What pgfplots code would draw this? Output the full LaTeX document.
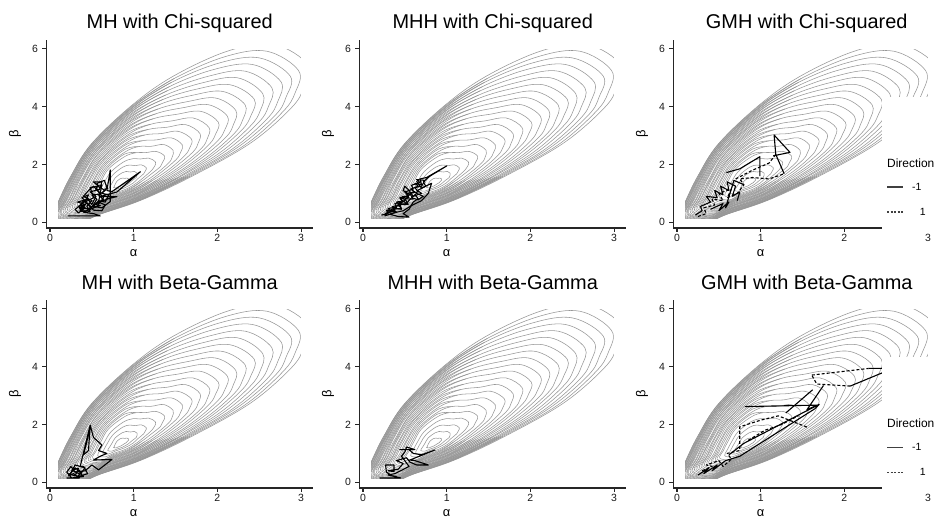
\documentclass[border=0pt]{standalone}
\usepackage{pgfplots}
\pgfplotsset{compat=1.18}
\usepackage{fontspec}
\setmainfont{Liberation Sans}
\definecolor{cgray}{RGB}{150,150,150}
\pgfplotsset{
  panel/.style={
    scale only axis, width=267bp, height=187.56bp,
    xmin=-0.045, xmax=3.145, ymin=-0.195, ymax=6.295,
    axis x line*=bottom, axis y line*=left,
    every outer x axis line/.append style={-},
    every outer y axis line/.append style={-},
    axis line style={-, line width=1.2bp, black!85},
    xtick={0,1,2,3}, ytick={0,2,4,6},
    tick align=outside, major tick length=4bp,
    tick style={line width=1.1bp, black!85},
    tick label style={font=\fontsize{10.5}{12}\selectfont, text=black!90},
    xticklabel style={inner sep=0pt, yshift=-2.2bp},
    yticklabel style={inner sep=4bp},
    /pgf/number format/assume math mode=true,
    axis on top,
    title style={font=\fontsize{20}{22}\selectfont, anchor=base, at={(axis description cs:0.5,1)}, inner sep=0pt},
    xlabel={α}, ylabel={β},
    xlabel style={at={(axis description cs:0.3276,0)}, anchor=base, yshift=-28.5bp, font=\fontsize{13}{15}\selectfont, inner sep=0pt},
    ylabel style={at={(axis description cs:-0.1169,0.5)}, anchor=center, font=\fontsize{13}{15}\selectfont, inner sep=0pt},
  },
  cline/.style={cgray, line width=0.55bp, smooth cycle, tension=0.6, forget plot},
  hline/.style={cgray, line width=0.55bp, smooth, tension=0.6, forget plot},
  mask/.style={fill=white, draw=none, forget plot},
  trace/.style={black, line width=1.1bp, line join=round, forget plot},
  dtrace/.style={black, line width=1.1bp, line join=round, dash pattern=on 3bp off 2bp, forget plot},
}
\newcommand{\contours}{%
\addplot[cline] coordinates {(0.94,1.50) (0.92,1.53) (0.89,1.52) (0.87,1.53) (0.84,1.51) (0.80,1.42) (0.78,1.33) (0.77,1.25) (0.76,1.20) (0.79,1.19) (0.81,1.22) (0.85,1.26) (0.88,1.32) (0.91,1.37) (0.93,1.43) (0.94,1.46)};
\addplot[cline] coordinates {(1.04,1.70) (1.01,1.76) (0.96,1.74) (0.91,1.76) (0.86,1.71) (0.78,1.54) (0.74,1.35) (0.71,1.21) (0.69,1.10) (0.74,1.08) (0.80,1.15) (0.87,1.22) (0.94,1.34) (0.98,1.44) (1.03,1.55) (1.04,1.62)};
\addplot[cline] coordinates {(1.15,1.89) (1.09,1.99) (1.02,1.96) (0.95,1.98) (0.87,1.91) (0.75,1.64) (0.69,1.37) (0.65,1.16) (0.63,1.01) (0.70,0.98) (0.78,1.08) (0.89,1.19) (0.99,1.35) (1.05,1.51) (1.12,1.68) (1.14,1.78)};
\addplot[cline] coordinates {(1.26,2.09) (1.18,2.22) (1.08,2.19) (0.99,2.20) (0.88,2.09) (0.73,1.75) (0.65,1.39) (0.60,1.12) (0.57,0.92) (0.66,0.88) (0.77,1.01) (0.91,1.15) (1.04,1.37) (1.13,1.58) (1.22,1.81) (1.25,1.94)};
\addplot[cline] coordinates {(1.37,2.29) (1.27,2.45) (1.14,2.41) (1.03,2.41) (0.89,2.27) (0.70,1.85) (0.61,1.42) (0.55,1.08) (0.51,0.84) (0.63,0.78) (0.75,0.95) (0.92,1.12) (1.08,1.39) (1.20,1.65) (1.32,1.93) (1.35,2.10)};
\addplot[cline] coordinates {(1.47,2.49) (1.36,2.69) (1.21,2.63) (1.06,2.62) (0.90,2.44) (0.68,1.94) (0.57,1.44) (0.50,1.04) (0.46,0.76) (0.59,0.69) (0.74,0.88) (0.94,1.09) (1.13,1.40) (1.28,1.71) (1.42,2.06) (1.46,2.26)};
\addplot[cline] coordinates {(1.58,2.68) (1.45,2.92) (1.27,2.85) (1.10,2.82) (0.91,2.61) (0.66,2.03) (0.53,1.45) (0.46,1.00) (0.41,0.69) (0.56,0.61) (0.72,0.82) (0.96,1.06) (1.18,1.42) (1.35,1.78) (1.51,2.18) (1.56,2.42)};
\addplot[cline] coordinates {(1.69,2.88) (1.53,3.15) (1.33,3.07) (1.13,3.02) (0.92,2.76) (0.64,2.12) (0.50,1.47) (0.41,0.97) (0.36,0.62) (0.53,0.53) (0.71,0.77) (0.97,1.03) (1.22,1.44) (1.43,1.85) (1.61,2.31) (1.67,2.58)};
\addplot[cline] coordinates {(1.79,3.08) (1.62,3.38) (1.40,3.29) (1.17,3.21) (0.93,2.91) (0.62,2.19) (0.47,1.49) (0.37,0.94) (0.31,0.55) (0.50,0.46) (0.70,0.71) (0.99,1.00) (1.27,1.45) (1.50,1.92) (1.71,2.44) (1.77,2.74)};
\addplot[cline] coordinates {(1.90,3.28) (1.71,3.61) (1.46,3.51) (1.20,3.39) (0.94,3.05) (0.61,2.27) (0.44,1.50) (0.34,0.91) (0.27,0.49) (0.47,0.39) (0.69,0.66) (1.00,0.98) (1.31,1.47) (1.58,1.99) (1.81,2.56) (1.88,2.90)};
\addplot[cline] coordinates {(2.01,3.47) (1.80,3.84) (1.52,3.74) (1.23,3.58) (0.94,3.19) (0.59,2.33) (0.41,1.52) (0.30,0.88) (0.23,0.43) (0.45,0.32) (0.68,0.61) (1.01,0.95) (1.35,1.48) (1.65,2.06) (1.90,2.69) (1.98,3.06)};
\addplot[cline] coordinates {(2.12,3.67) (1.89,4.07) (1.58,3.96) (1.26,3.75) (0.95,3.31) (0.58,2.40) (0.39,1.53) (0.27,0.86) (0.19,0.38) (0.42,0.26) (0.67,0.57) (1.02,0.93) (1.39,1.49) (1.73,2.13) (2.00,2.81) (2.09,3.21)};
\addplot[cline] coordinates {(2.22,3.87) (1.98,4.30) (1.65,4.18) (1.29,3.92) (0.96,3.43) (0.56,2.46) (0.36,1.54) (0.24,0.83) (0.16,0.33) (0.40,0.21) (0.66,0.52) (1.04,0.91) (1.43,1.51) (1.80,2.20) (2.10,2.94) (2.19,3.37)};
\addplot[cline] coordinates {(2.33,4.07) (2.06,4.53) (1.71,4.40) (1.32,4.09) (0.97,3.54) (0.55,2.51) (0.34,1.55) (0.21,0.81) (0.13,0.29) (0.38,0.16) (0.65,0.48) (1.05,0.88) (1.47,1.52) (1.88,2.27) (2.20,3.07) (2.30,3.53)};
\addplot[cline] coordinates {(2.44,4.26) (2.15,4.76) (1.77,4.62) (1.35,4.25) (0.97,3.64) (0.54,2.56) (0.32,1.56) (0.19,0.79) (0.10,0.25) (0.37,0.12) (0.64,0.45) (1.06,0.87) (1.51,1.53) (1.95,2.34) (2.29,3.19) (2.40,3.69)};
\addplot[cline] coordinates {(2.54,4.46) (2.24,5.00) (1.84,4.84) (1.38,4.40) (0.98,3.74) (0.53,2.60) (0.30,1.57) (0.17,0.77) (0.08,0.21) (0.35,0.08) (0.63,0.41) (1.07,0.85) (1.54,1.55) (2.03,2.41) (2.39,3.32) (2.51,3.85)};
\addplot[cline] coordinates {(2.65,4.66) (2.33,5.23) (1.90,5.06) (1.40,4.55) (0.98,3.83) (0.52,2.63) (0.29,1.58) (0.15,0.76) (0.06,0.18) (0.34,0.04) (0.62,0.38) (1.07,0.83) (1.58,1.56) (2.10,2.47) (2.49,3.45) (2.61,4.01)};
\addplot[cline] coordinates {(2.76,4.86) (2.42,5.46) (1.96,5.29) (1.43,4.70) (0.99,3.91) (0.52,2.67) (0.28,1.59) (0.13,0.75) (0.04,0.15) (0.32,0.01) (0.62,0.35) (1.08,0.82) (1.61,1.57) (2.18,2.54) (2.59,3.57) (2.72,4.17)};
\addplot[cline] coordinates {(2.87,5.06) (2.50,5.69) (2.02,5.51) (1.45,4.84) (0.99,3.98) (0.51,2.69) (0.27,1.59) (0.12,0.74) (0.02,0.13) (0.31,-0.02) (0.61,0.32) (1.09,0.80) (1.64,1.58) (2.25,2.61) (2.69,3.70) (2.82,4.33)};
\addplot[cline] coordinates {(2.97,5.25) (2.59,5.92) (2.09,5.73) (1.48,4.97) (1.00,4.04) (0.50,2.71) (0.26,1.60) (0.11,0.73) (0.01,0.11) (0.31,-0.04) (0.61,0.30) (1.09,0.79) (1.67,1.59) (2.33,2.68) (2.78,3.82) (2.93,4.49)};
\addplot[cline] coordinates {(3.08,5.45) (2.68,6.15) (2.15,5.95) (1.50,5.10) (1.00,4.10) (0.50,2.73) (0.25,1.60) (0.10,0.72) (0.00,0.10) (0.30,-0.05) (0.60,0.28) (1.10,0.78) (1.70,1.60) (2.40,2.75) (2.88,3.95) (3.03,4.65)};
\addplot[hline] coordinates {(1.03,2.41) (0.89,2.36) (0.69,1.90) (0.59,1.42) (0.53,1.06) (0.48,0.80) (0.61,0.74) (0.74,0.91) (0.93,1.10) (1.08,1.39)};
\addplot[hline] coordinates {(1.06,2.62) (0.90,2.53) (0.67,1.99) (0.55,1.44) (0.48,1.02) (0.43,0.72) (0.58,0.65) (0.73,0.85) (0.95,1.07) (1.13,1.40)};
\addplot[hline] coordinates {(1.10,2.82) (0.91,2.69) (0.65,2.07) (0.52,1.46) (0.44,0.99) (0.38,0.65) (0.54,0.57) (0.72,0.80) (0.96,1.04) (1.18,1.42)};
\addplot[hline] coordinates {(1.13,3.02) (0.92,2.84) (0.63,2.15) (0.48,1.48) (0.39,0.95) (0.33,0.58) (0.51,0.49) (0.70,0.74) (0.98,1.01) (1.22,1.44)};
\addplot[hline] coordinates {(1.17,3.21) (0.93,2.98) (0.62,2.23) (0.45,1.50) (0.36,0.92) (0.29,0.52) (0.49,0.42) (0.69,0.69) (0.99,0.99) (1.27,1.45)};
\addplot[hline] coordinates {(1.20,3.39) (0.94,3.12) (0.60,2.30) (0.42,1.51) (0.32,0.89) (0.25,0.46) (0.46,0.36) (0.68,0.64) (1.01,0.96) (1.31,1.47)};
\addplot[hline] coordinates {(1.23,3.58) (0.95,3.25) (0.58,2.37) (0.40,1.52) (0.29,0.87) (0.21,0.41) (0.44,0.29) (0.67,0.59) (1.02,0.94) (1.35,1.48)};
\addplot[hline] coordinates {(1.26,3.75) (0.96,3.37) (0.57,2.43) (0.37,1.54) (0.26,0.84) (0.18,0.35) (0.41,0.24) (0.66,0.55) (1.03,0.92) (1.39,1.49)};
\addplot[hline] coordinates {(1.29,3.92) (0.96,3.49) (0.56,2.48) (0.35,1.55) (0.23,0.82) (0.14,0.31) (0.39,0.18) (0.65,0.50) (1.04,0.89) (1.43,1.51)};
\addplot[hline] coordinates {(1.32,4.09) (0.97,3.59) (0.55,2.53) (0.33,1.56) (0.20,0.80) (0.12,0.27) (0.37,0.14) (0.64,0.47) (1.05,0.87) (1.47,1.52)};
\addplot[hline] coordinates {(1.35,4.25) (0.98,3.69) (0.54,2.58) (0.31,1.57) (0.18,0.78) (0.09,0.23) (0.36,0.10) (0.63,0.43) (1.06,0.86) (1.51,1.53)};
\addplot[hline] coordinates {(1.38,4.40) (0.98,3.78) (0.53,2.62) (0.30,1.58) (0.16,0.77) (0.07,0.20) (0.34,0.06) (0.63,0.40) (1.07,0.84) (1.54,1.55)};
\addplot[hline] coordinates {(1.40,4.55) (0.99,3.87) (0.52,2.65) (0.28,1.58) (0.14,0.75) (0.05,0.17) (0.33,0.03) (0.62,0.37) (1.08,0.82) (1.58,1.56)};
\addplot[hline] coordinates {(1.43,4.70) (0.99,3.94) (0.51,2.68) (0.27,1.59) (0.13,0.74) (0.03,0.14) (0.32,0.00) (0.61,0.34) (1.09,0.81) (1.61,1.57)};
\addplot[hline] coordinates {(1.45,4.84) (1.00,4.01) (0.51,2.70) (0.26,1.59) (0.11,0.73) (0.02,0.12) (0.31,-0.03) (0.61,0.31) (1.09,0.80) (1.64,1.58)};
\addplot[hline] coordinates {(1.48,4.97) (1.00,4.07) (0.50,2.72) (0.25,1.60) (0.10,0.72) (0.00,0.11) (0.30,-0.04) (0.60,0.29) (1.10,0.79) (1.67,1.59)};
\addplot[mask] coordinates {(-1,-1) (0.1,-1) (0.1,7) (-1,7)} -- cycle;
\addplot[mask] coordinates {(-1,-1) (4,-1) (4,0.1) (-1,0.1)} -- cycle;
\addplot[mask] coordinates {(3,-1) (4,-1) (4,7) (3,7)} -- cycle;
\addplot[mask] coordinates {(-1,6) (4,6) (4,7) (-1,7)} -- cycle;
}
\begin{document}
\begin{tikzpicture}[x=1bp,y=1bp]
\useasboundingbox (0bp,0bp) rectangle (936bp,521bp);
% ---------- Row 1 ----------
\begin{axis}[panel, at={(46.23bp,293.06bp)}, anchor=south west, title={MH with Chi-squared}, title style={yshift=6.1bp}]
\contours
\addplot[trace] coordinates {(0.21,0.22) (0.60,0.22) (0.52,0.30) (0.40,0.35) (0.35,0.50) (0.42,0.62) (0.33,0.70) (0.45,0.80) (0.50,0.62) (0.55,0.90) (0.48,1.05) (0.60,1.15) (0.56,1.35) (0.65,1.45) (0.68,1.20) (0.62,1.00) (0.70,0.95) (0.66,0.70) (0.58,0.75) (0.52,0.55) (0.62,0.50) (0.72,0.72) (0.72,1.81) (0.68,1.10) (0.74,1.06) (1.08,1.75) (0.80,1.05) (0.60,0.89) (0.80,0.89) (0.70,0.82) (0.55,0.65) (0.45,0.45) (0.38,0.55) (0.36,0.40) (0.48,0.38) (0.44,0.55) (0.50,0.75) (0.40,0.90) (0.46,1.10) (0.52,1.25) (0.58,1.05) (0.64,0.85) (0.56,0.55) (0.48,0.45) (0.40,0.48)};
\addplot[trace] coordinates {(0.38,0.45) (0.44,0.68) (0.50,0.52) (0.56,0.80) (0.50,0.95) (0.60,0.98) (0.55,1.20) (0.62,1.30) (0.58,0.70) (0.66,0.60) (0.62,0.40) (0.52,0.42) (0.46,0.60) (0.40,0.75) (0.36,0.60) (0.42,0.50) (0.34,0.32) (0.30,0.45) (0.38,0.62)};
\addplot[trace] coordinates {(0.35,0.55) (0.42,0.75) (0.38,0.85) (0.46,0.95) (0.42,0.70) (0.52,0.85) (0.48,1.20) (0.58,1.25) (0.52,1.40) (0.62,1.40) (0.60,1.20) (0.66,1.10) (0.58,0.95) (0.64,0.78) (0.54,0.62) (0.60,0.58) (0.50,0.48) (0.44,0.40) (0.36,0.38) (0.40,0.60) (0.33,0.55)};
\end{axis}
\begin{axis}[panel, at={(359.23bp,293.06bp)}, anchor=south west, title={MHH with Chi-squared}, title style={yshift=6.1bp}]
\contours
\addplot[trace] coordinates {(0.22,0.25) (0.30,0.30) (0.28,0.42) (0.38,0.40) (0.35,0.55) (0.45,0.58) (0.40,0.70) (0.50,0.75) (0.47,0.90) (0.55,0.85) (0.52,1.00) (0.62,1.05) (0.57,1.15) (0.66,1.25) (0.62,1.35) (0.70,1.30) (0.68,1.50) (0.76,1.55) (1.00,1.95) (0.80,1.60) (0.72,1.40) (0.75,1.25) (0.65,1.10) (0.70,1.00) (0.60,0.90) (0.55,1.10) (0.50,1.25) (0.48,1.10) (0.56,0.95) (0.45,0.80) (0.52,0.65) (0.42,0.60) (0.46,0.48) (0.36,0.45) (0.40,0.35) (0.32,0.28) (0.42,0.20) (0.55,0.18) (0.48,0.30) (0.55,0.45) (0.60,0.70) (0.66,0.82) (0.62,0.95)};
\addplot[trace] coordinates {(0.58,0.85) (0.64,1.00) (0.72,0.90) (0.66,0.78) (0.58,0.85) (0.50,0.60) (0.44,0.66) (0.38,0.50) (0.30,0.38) (0.26,0.22) (0.36,0.32) (0.48,0.40) (0.58,0.58) (0.70,0.75) (0.78,1.00) (0.82,1.35) (0.70,1.18) (0.64,1.42)};
\addplot[trace] coordinates {(0.26,0.30) (0.34,0.36) (0.30,0.48) (0.40,0.52) (0.38,0.65) (0.48,0.70) (0.44,0.85) (0.54,0.92) (0.50,1.05) (0.60,1.15) (0.58,1.28) (0.68,1.38) (0.64,1.48) (0.74,1.45) (0.70,1.25) (0.62,1.20) (0.66,1.05) (0.56,1.00) (0.60,0.80) (0.50,0.82) (0.54,0.62) (0.44,0.62) (0.46,0.45) (0.36,0.50) (0.38,0.36) (0.30,0.40)};
\end{axis}
\begin{axis}[panel, at={(673.23bp,293.06bp)}, anchor=south west, title={GMH with Chi-squared}, title style={yshift=6.1bp}]
\contours
\addplot[trace] coordinates {(0.22,0.25) (0.30,0.40) (0.28,0.55) (0.40,0.70) (0.35,0.90) (0.48,0.85) (0.45,1.10) (0.55,0.95) (0.52,1.25) (0.62,1.10) (0.60,1.40) (0.70,1.25) (0.66,0.90) (0.75,1.05) (0.72,0.75)};
\addplot[trace] coordinates {(0.59,1.72) (0.75,1.85) (0.99,2.27) (0.99,1.60)};
\addplot[trace] coordinates {(1.28,1.68) (1.18,2.35) (1.16,3.02) (1.35,2.42) (1.15,2.30)};
\addplot[trace] coordinates {(0.40,0.45) (0.55,0.65) (0.50,0.40) (0.62,0.70) (0.58,0.50) (0.68,1.45) (0.80,1.30)};
\addplot[dtrace] coordinates {(0.25,0.20) (0.35,0.30) (0.32,0.50) (0.45,0.60) (0.42,0.80) (0.55,0.75) (0.50,1.00) (0.65,1.15) (0.60,0.85) (0.72,1.00) (0.80,1.30) (0.75,1.50) (0.90,1.55) (1.10,1.50) (1.28,1.68)};
\addplot[dtrace] coordinates {(0.70,1.50) (0.90,1.80) (1.10,2.05) (1.18,2.35)};
\end{axis}
% ---------- Row 2 ----------
\begin{axis}[panel, at={(46.23bp,33.06bp)}, anchor=south west, title={MH with Beta-Gamma}, title style={yshift=4.4bp}]
\contours
\addplot[trace] coordinates {(0.20,0.15) (0.35,0.15) (0.28,0.30) (0.22,0.22) (0.30,0.50) (0.38,0.35) (0.32,0.18) (0.45,0.30) (0.40,0.55) (0.36,0.54) (0.48,1.98) (0.44,1.40) (0.40,0.95) (0.46,1.10) (0.48,1.98) (0.52,1.55) (0.62,1.29) (0.58,1.10) (0.68,1.00) (0.60,0.90) (0.52,0.77) (0.74,0.79) (0.58,0.43) (0.50,0.60) (0.42,0.40) (0.30,0.35) (0.25,0.55) (0.20,0.35) (0.26,0.15) (0.40,0.20) (0.34,0.40)};
\addplot[trace] coordinates {(0.22,0.30) (0.30,0.22) (0.34,0.48) (0.26,0.42) (0.36,0.28) (0.42,0.50) (0.30,0.60) (0.24,0.28)};
\end{axis}
\begin{axis}[panel, at={(359.23bp,33.06bp)}, anchor=south west, title={MHH with Beta-Gamma}, title style={yshift=4.4bp}]
\contours
\addplot[trace] coordinates {(0.20,0.15) (0.45,0.15) (0.35,0.22) (0.28,0.35) (0.27,0.60) (0.37,0.60) (0.37,0.37) (0.30,0.40) (0.42,0.45) (0.48,0.65) (0.40,0.75) (0.52,0.85) (0.56,0.70) (0.64,0.60) (0.78,0.60) (0.62,0.75) (0.56,0.77) (0.86,1.12) (0.70,0.95) (0.60,1.00) (0.55,1.13) (0.44,1.13) (0.62,1.13) (0.52,1.22) (0.50,1.05) (0.46,0.90) (0.55,0.55) (0.45,0.40) (0.38,0.30) (0.30,0.25) (0.40,0.20)};
\end{axis}
\begin{axis}[panel, at={(673.23bp,33.06bp)}, anchor=south west, title={GMH with Beta-Gamma}, title style={yshift=4.4bp}]
\contours
\addplot[trace] coordinates {(0.25,0.25) (0.38,0.50) (0.32,0.30) (0.48,0.60) (0.42,0.40) (0.58,0.75) (0.75,0.90) (1.65,2.55) (1.70,2.70) (0.80,1.35) (0.62,0.95)};
\addplot[trace] coordinates {(0.81,2.62) (1.67,2.67) (1.55,2.50) (1.75,3.35)};
\addplot[trace] coordinates {(2.29,3.94) (2.58,3.94) (2.07,3.33)};
\addplot[trace] coordinates {(1.30,2.40) (1.62,3.20)};
\addplot[dtrace] coordinates {(0.30,0.40) (0.42,0.55) (0.35,0.60) (0.50,0.75) (0.55,0.55) (0.65,0.80) (0.60,1.00) (0.75,1.10) (0.75,1.92) (1.00,2.15) (1.21,2.30) (1.57,1.89)};
\addplot[dtrace] coordinates {(1.61,3.71) (2.29,3.94)};
\addplot[dtrace] coordinates {(2.07,3.33) (1.67,3.40) (1.61,3.71)};
\addplot[dtrace] coordinates {(0.85,1.45) (1.05,1.80) (1.25,2.00) (1.45,2.30)};
\end{axis}
% ---------- Legends ----------
\fill[white] (882bp,289bp) rectangle (936bp,424bp);
\node[anchor=base west, inner sep=0pt, font=\fontsize{12}{14}\selectfont] at (887bp,353.5bp) {Direction};
\draw[line width=1.3bp, black!75] (887bp,334bp) -- (903bp,334bp);
\node[anchor=west, inner sep=0pt, font=\fontsize{10.5}{12}\selectfont] at (912bp,334bp) {-1};
\draw[line width=1.3bp, black!75, dash pattern=on 2bp off 1.5bp] (887bp,309bp) -- (903bp,309bp);
\node[anchor=east, inner sep=0pt, font=\fontsize{10.5}{12}\selectfont] at (926bp,309bp) {1};
\fill[white] (882bp,29bp) rectangle (936bp,164bp);
\node[anchor=base west, inner sep=0pt, font=\fontsize{12}{14}\selectfont] at (887bp,93.5bp) {Direction};
\draw[line width=1.3bp, black!75] (887bp,73.7bp) -- (903bp,73.7bp);
\node[anchor=west, inner sep=0pt, font=\fontsize{10.5}{12}\selectfont] at (912bp,73.7bp) {-1};
\draw[line width=1.3bp, black!75, dash pattern=on 2bp off 1.5bp] (887bp,48.7bp) -- (903bp,48.7bp);
\node[anchor=east, inner sep=0pt, font=\fontsize{10.5}{12}\selectfont] at (926bp,48.7bp) {1};
\end{tikzpicture}
\end{document}
